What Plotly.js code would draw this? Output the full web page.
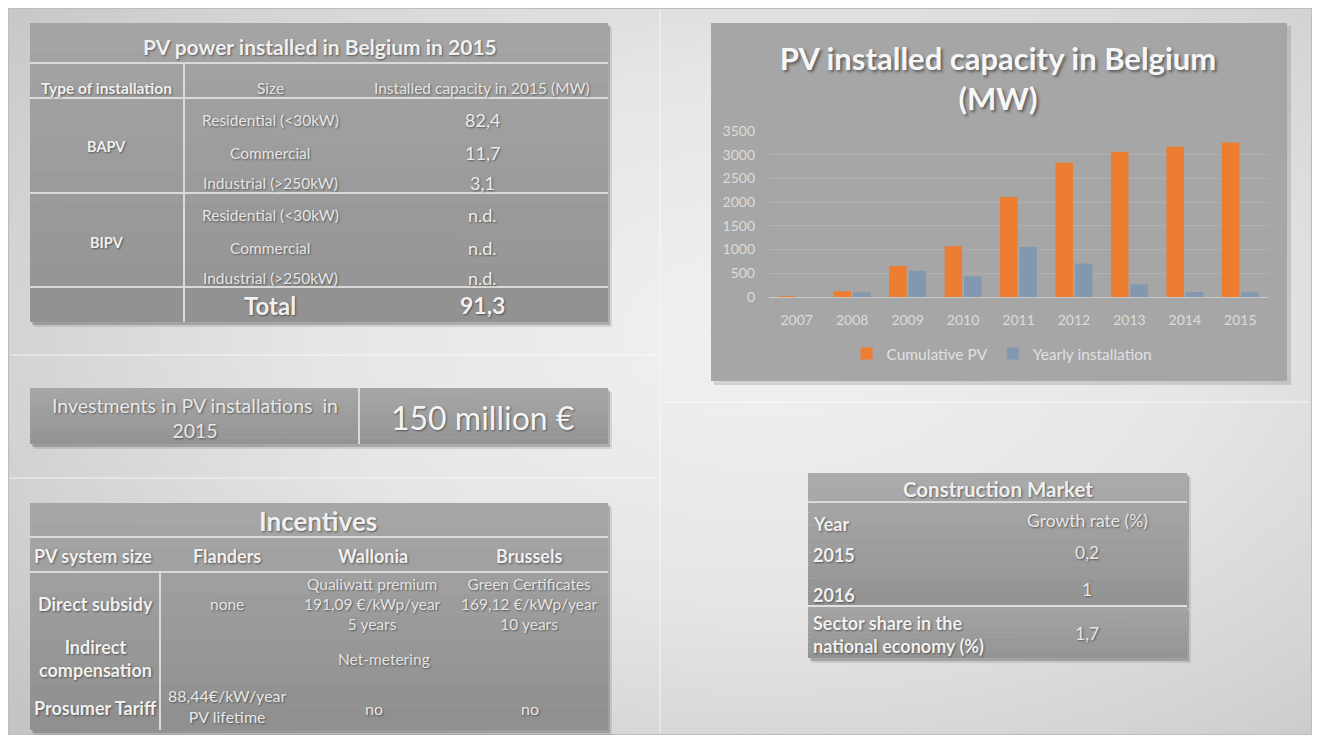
<!DOCTYPE html>
<html>
<head>
<meta charset="utf-8">
<script src="https://cdn.plot.ly/plotly-3.0.1.min.js"></script>
<style>
html,body{margin:0;padding:0;background:#ffffff;width:1319px;height:740px;overflow:hidden;}
#bg{position:absolute;left:8px;top:8px;width:1302px;height:725px;border:1px solid #bdbdbd;
background:radial-gradient(ellipse 75% 80% at 58% 45%, #f1f1f1 0%, #e6e6e6 45%, #d2d2d2 80%, #c4c4c4 100%);}
#chart{position:absolute;left:0;top:0;width:1319px;height:740px;}
</style>
</head>
<body>
<div id="bg"></div>
<div id="chart"></div>
<script>
// ---------- DATA ----------
const years = ['2007','2008','2009','2010','2011','2012','2013','2014','2015'];
const cumulativePV = [20, 120, 655, 1070, 2110, 2830, 3060, 3170, 3260];
const yearlyInstallation = [3, 100, 550, 435, 1055, 705, 265, 105, 100];

const pvTitle = 'PV power installed in Belgium in 2015';
const pvHeaders = ['Type of installation', 'Size', 'Installed capacity in 2015 (MW)'];
const pvTypes = ['BAPV', 'BIPV'];
const pvSizes = ['Residential (<30kW)', 'Commercial', 'Industrial (>250kW)'];
const pvCapacity = ['82,4', '11,7', '3,1', 'n.d.', 'n.d.', 'n.d.'];
const pvTotal = ['Total', '91,3'];

const investLabel = 'Investments in PV installations  in<br>2015';
const investValue = '150 million €';

const incTitle = 'Incentives';
const incHeaders = ['PV system size', 'Flanders', 'Wallonia', 'Brussels'];
const incRows = ['Direct subsidy', 'Indirect<br>compensation', 'Prosumer Tariff'];
const incDirect = ['none', 'Qualiwatt premium<br>191,09 €/kWp/year<br>5 years', 'Green Certificates<br>169,12 €/kWp/year<br>10 years'];
const incIndirect = 'Net-metering';
const incProsumer = ['88,44€/kW/year<br>PV lifetime', 'no', 'no'];

const cmTitle = 'Construction Market';
const cmHeaders = ['Year', 'Growth rate (%)'];
const cmYears = ['2015', '2016'];
const cmGrowth = ['0,2', '1'];
const cmShare = ['Sector share in the<br>national economy (%)', '1,7'];

const chartTitle = 'PV installed capacity in Belgium<br>(MW)';
const seriesNames = ['Cumulative PV', 'Yearly installation'];

// ---------- HELPERS ----------
const W = 1319, H = 740;
const FONT = 'Lato, "Open Sans", sans-serif';
const px = x => x / W, py = y => 1 - y / H;
const shapes = [], annotations = [];
const SH = '1px 1px 2px rgba(0,0,0,0.45)';

function rect(x0, y0, x1, y1, fill) {
  shapes.push({type:'rect', xref:'paper', yref:'paper', layer:'below',
    x0:px(x0), x1:px(x1), y0:py(y1), y1:py(y0), fillcolor:fill, line:{width:0}});
}
function panel(x0, y0, x1, y1, top, bottom) {
  rect(x0+4, y0+4, x1+4, y1+5, 'rgba(0,0,0,0.10)');
  rect(x0+2, y0+2, x1+2, y1+3, 'rgba(0,0,0,0.18)');
  const n = 10;
  for (let i = 0; i < n; i++) {
    const t = i / (n - 1);
    const c = top.map((v, k) => Math.round(v + (bottom[k] - v) * t));
    rect(x0, y0 + (y1 - y0) * i / n, x1, y0 + (y1 - y0) * (i + 1) / n, `rgb(${c[0]},${c[1]},${c[2]})`);
  }
}
function line(x0, y0, x1, y1, color, w) {
  shapes.push({type:'line', xref:'paper', yref:'paper', layer:'below',
    x0:px(x0), x1:px(x1), y0:py(y0), y1:py(y1), line:{color:color, width:w}});
}
function txt(text, x, y, size, o) {
  o = o || {};
  annotations.push({xref:'paper', yref:'paper', x:px(x), y:py(y), text:text, showarrow:false,
    xanchor:o.anchor || 'center', yanchor:'middle', align:o.align || 'center',
    font:{family:FONT, size:size, color:o.color || '#f0f0f0', weight:o.bold ? 700 : 400, shadow:o.shadow || SH}});
}

// ---------- BACKGROUND DIVIDERS ----------
line(10, 355, 660, 355, 'rgba(255,255,255,0.7)', 1);
line(10, 478, 660, 478, 'rgba(255,255,255,0.7)', 1);
line(660, 10, 660, 732, 'rgba(255,255,255,0.7)', 1);
line(660, 402, 1309, 402, 'rgba(255,255,255,0.7)', 1);

// ---------- TABLE 1 ----------
const LC = '#dadada';
panel(30, 23, 608, 322, [164,164,164], [148,148,148]);
rect(30, 287, 608, 322, 'rgb(146,146,146)');
line(30, 63, 608, 63, LC, 2);
line(30, 98, 608, 98, LC, 2);
line(30, 193, 608, 193, LC, 2);
line(30, 287, 608, 287, LC, 2);
line(184, 63, 184, 322, LC, 2);
txt(pvTitle, 320, 46, 21, {bold:true});
txt(pvHeaders[0], 107, 88, 15.5, {bold:true});
txt(pvHeaders[1], 270, 88, 15.5, {color:'#e6e6e6'});
txt(pvHeaders[2], 482, 88, 15.5, {color:'#e6e6e6'});
txt(pvTypes[0], 107, 147, 14.5, {bold:true});
txt(pvTypes[1], 107, 242, 14.5, {bold:true});
const rowY = [120, 153, 183, 215, 248, 278];
rowY.forEach((y, i) => {
  txt(pvSizes[i % 3], 270, y, 15.5, {color:'#e6e6e6'});
  txt(pvCapacity[i], 482, y, 18, {color:'#ededed'});
});
txt(pvTotal[0], 270, 305, 24, {bold:true});
txt(pvTotal[1], 482, 305, 23, {bold:true});

// ---------- INVESTMENTS ----------
panel(30, 388, 608, 444, [166,166,166], [148,148,148]);
line(359, 388, 359, 444, LC, 2);
txt(investLabel, 195, 418, 19.5, {color:'#e8e8e8'});
txt(investValue, 483, 417, 32, {color:'#f4f4f4'});

// ---------- INCENTIVES ----------
panel(30, 503, 608, 730, [166,166,166], [144,144,144]);
line(30, 537, 608, 537, LC, 2);
line(30, 572, 608, 572, LC, 2);
line(160, 572, 160, 730, LC, 2);
txt(incTitle, 318, 521, 26, {bold:true});
txt(incHeaders[0], 93, 556, 18, {bold:true});
txt(incHeaders[1], 227, 556, 18, {bold:true});
txt(incHeaders[2], 373, 556, 18, {bold:true});
txt(incHeaders[3], 529, 556, 18, {bold:true});
txt(incRows[0], 95, 604, 18, {bold:true});
txt(incRows[1], 95, 658, 18, {bold:true});
txt(incRows[2], 95, 708, 18, {bold:true});
txt(incDirect[0], 227, 604, 15.5, {color:'#e4e4e4'});
txt(incDirect[1], 373, 604, 15.5, {color:'#e4e4e4'});
txt(incDirect[2], 529, 604, 15.5, {color:'#e4e4e4'});
txt(incIndirect, 384, 659, 15.5, {color:'#e4e4e4'});
txt(incProsumer[0], 227, 706, 16, {color:'#e8e8e8'});
txt(incProsumer[1], 374, 708, 16, {color:'#e8e8e8'});
txt(incProsumer[2], 530, 708, 16, {color:'#e8e8e8'});

// ---------- CONSTRUCTION MARKET ----------
panel(808, 473, 1187, 605, [170,170,170], [148,148,148]);
panel(808, 607, 1187, 658, [164,164,164], [148,148,148]);
line(808, 502, 1187, 502, LC, 2);
line(808, 606, 1187, 606, '#e0e0e0', 2);
txt(cmTitle, 998, 489, 20.5, {bold:true});
txt(cmHeaders[0], 811, 524, 18, {bold:true, anchor:'left'});
txt(cmHeaders[1], 1087, 520, 17.5, {color:'#e8e8e8'});
txt(cmYears[0], 811, 555, 18, {bold:true, anchor:'left'});
txt(cmYears[1], 811, 595, 18, {bold:true, anchor:'left'});
txt(cmGrowth[0], 1087, 552, 17.5, {color:'#e8e8e8'});
txt(cmGrowth[1], 1087, 589, 17.5, {color:'#e8e8e8'});
txt(cmShare[0], 811, 634, 18, {bold:true, anchor:'left', align:'left'});
txt(cmShare[1], 1087, 633, 17.5, {color:'#e8e8e8'});

// ---------- CHART PANEL ----------
rect(714, 26, 1291, 385, 'rgba(0,0,0,0.12)');
rect(711, 23, 1287, 381, '#a6a6a6');

const traces = [
  {type:'bar', name:seriesNames[0], x:years, y:cumulativePV, marker:{color:'#ed7d31'}},
  {type:'bar', name:seriesNames[1], x:years, y:yearlyInstallation, marker:{color:'#8497b0'}}
];

const layout = {
  width: W, height: H,
  margin: {l:0, r:0, t:0, b:0},
  paper_bgcolor: 'rgba(0,0,0,0)',
  plot_bgcolor: 'rgba(0,0,0,0)',
  font: {family: FONT},
  barmode: 'group',
  bargap: 0.3,
  bargroupgap: 0.1,
  title: {text: chartTitle, x: px(998), xanchor:'center', y: py(70), yanchor:'middle',
    xref:'paper', yref:'paper',
    font: {family: FONT, size: 31, color:'#f7f7f7', weight: 700, shadow:'2px 2px 3px rgba(0,0,0,0.45)'}},
  xaxis: {domain:[px(769), px(1268)], anchor:'y', type:'category',
    showgrid:false, showline:false, ticks:'', zeroline:false,
    tickfont:{family:FONT, size:14, color:'#dcdcdc'}, ticklabelstandoff: 13},
  yaxis: {domain:[py(297), py(131)], anchor:'x', range:[0, 3500], dtick:500,
    showgrid:true, gridcolor:'#b1b1b1', gridwidth:1, zeroline:true, zerolinecolor:'#c8c8c8', zerolinewidth:1,
    showline:false, ticks:'', tickfont:{family:FONT, size:14, color:'#dcdcdc'}, ticklabelstandoff: 13},
  showlegend: true,
  legend: {orientation:'h', x: px(1002), xanchor:'center', y: py(354), yanchor:'middle',
    font:{family:FONT, size:15.5, color:'#e0e0e0'}, bgcolor:'rgba(0,0,0,0)', itemwidth:30,
    traceorder:'normal'},
  shapes: shapes,
  annotations: annotations
};

Plotly.newPlot('chart', traces, layout, {displayModeBar:false, staticPlot:true});
</script>
</body>
</html>
